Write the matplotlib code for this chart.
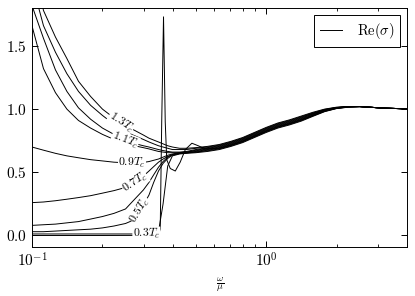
import matplotlib
matplotlib.use('Agg')
import matplotlib.pyplot as plt
import numpy as np

plt.rcParams['font.family'] = 'serif'
plt.rcParams['font.serif'] = ['cmr10']
plt.rcParams['mathtext.fontset'] = 'cm'
plt.rcParams['axes.formatter.use_mathtext'] = True

# gemeinsames Frequenzgitter (omega / mu)
omega = [0.100, 0.112, 0.126, 0.141, 0.158, 0.178, 0.200, 0.224, 0.251, 0.266,
         0.282, 0.299, 0.316, 0.331, 0.347, 0.363, 0.380, 0.398, 0.427, 0.457,
         0.501, 0.562, 0.631, 0.708, 0.794, 0.891, 1.000, 1.122, 1.259, 1.413,
         1.585, 1.778, 1.995, 2.239, 2.512, 3.162, 3.981]

sigma_13 = [2.20, 1.78, 1.57, 1.40, 1.22, 1.10, 1.00, 0.93, 0.87, 0.845,
            0.82, 0.795, 0.77, 0.755, 0.74, 0.725, 0.71, 0.70, 0.69, 0.69,
            0.695, 0.705, 0.72, 0.745, 0.775, 0.815, 0.855, 0.89, 0.915, 0.945,
            0.975, 1.0, 1.015, 1.02, 1.02, 1.008, 1.002]
sigma_12 = [2.00, 1.66, 1.45, 1.28, 1.14, 1.03, 0.95, 0.88, 0.825, 0.80,
            0.78, 0.76, 0.74, 0.725, 0.71, 0.70, 0.69, 0.68, 0.68, 0.68,
            0.69, 0.70, 0.715, 0.74, 0.77, 0.81, 0.85, 0.885, 0.91, 0.94,
            0.97, 0.997, 1.013, 1.02, 1.02, 1.008, 1.002]
sigma_11 = [1.82, 1.56, 1.31, 1.14, 1.01, 0.92, 0.85, 0.80, 0.755, 0.738,
            0.722, 0.71, 0.70, 0.69, 0.68, 0.672, 0.665, 0.66, 0.66, 0.665,
            0.68, 0.695, 0.71, 0.735, 0.765, 0.805, 0.845, 0.88, 0.905, 0.935,
            0.967, 0.995, 1.012, 1.02, 1.02, 1.008, 1.002]
sigma_10 = [1.66, 1.32, 1.13, 1.00, 0.91, 0.85, 0.80, 0.76, 0.73, 0.715,
            0.705, 0.695, 0.685, 0.675, 0.665, 0.66, 0.655, 0.655, 0.655, 0.66,
            0.675, 0.69, 0.705, 0.73, 0.76, 0.80, 0.84, 0.875, 0.90, 0.93,
            0.963, 0.993, 1.011, 1.02, 1.02, 1.008, 1.002]
sigma_09 = [0.70, 0.675, 0.65, 0.63, 0.615, 0.60, 0.59, 0.58, 0.575, 0.574,
            0.574, 0.578, 0.585, 0.595, 0.605, 0.62, 0.635, 0.645, 0.655, 0.66,
            0.67, 0.685, 0.70, 0.725, 0.755, 0.795, 0.835, 0.87, 0.895, 0.925,
            0.96, 0.99, 1.01, 1.02, 1.02, 1.008, 1.002]
sigma_07 = [0.26, 0.265, 0.275, 0.287, 0.30, 0.315, 0.335, 0.355, 0.38, 0.40,
            0.43, 0.47, 0.51, 0.545, 0.58, 0.605, 0.625, 0.64, 0.65, 0.655,
            0.665, 0.68, 0.695, 0.72, 0.75, 0.79, 0.83, 0.865, 0.89, 0.92,
            0.955, 0.987, 1.008, 1.018, 1.02, 1.008, 1.002]
sigma_06 = [0.08, 0.085, 0.09, 0.10, 0.11, 0.13, 0.15, 0.175, 0.21, 0.26,
            0.31, 0.36, 0.42, 0.48, 0.54, 0.585, 0.62, 0.64, 0.65, 0.655,
            0.66, 0.675, 0.69, 0.715, 0.745, 0.785, 0.825, 0.86, 0.885, 0.915,
            0.95, 0.985, 1.007, 1.017, 1.02, 1.008, 1.002]
sigma_05 = [0.03, 0.03, 0.035, 0.04, 0.045, 0.05, 0.06, 0.075, 0.095, 0.115,
            0.16, 0.24, 0.32, 0.42, 0.51, 0.57, 0.61, 0.635, 0.648, 0.653,
            0.66, 0.67, 0.685, 0.71, 0.74, 0.78, 0.82, 0.855, 0.88, 0.91,
            0.947, 0.982, 1.005, 1.016, 1.02, 1.008, 1.002]
sigma_03 = [0.012, 0.012, 0.012, 0.012, 0.012, 0.012, 0.012, 0.012, 0.012, 0.012,
            0.012, 0.012, 0.012, 0.015, 0.03, 0.25, 0.55, 0.63, 0.645, 0.65,
            0.655, 0.665, 0.68, 0.705, 0.735, 0.775, 0.815, 0.85, 0.875, 0.905,
            0.943, 0.98, 1.004, 1.015, 1.02, 1.008, 1.002]

# Kurve mit dem scharfen Peak (tiefste Temperatur)
omega_peak = [0.1, 0.2, 0.3, 0.34, 0.347, 0.353, 0.3582, 0.3646, 0.3708, 0.3763,
              0.3896, 0.4093, 0.4295, 0.4519, 0.4819, 0.5129, 0.5495, 0.631, 0.708,
              0.794, 0.891, 1.0, 1.122, 1.259, 1.413, 1.585, 1.778, 1.995, 2.239,
              2.512, 3.162, 3.981]
sigma_peak = [0.0, 0.0, 0.001, 0.003, 0.006, 0.05, 0.9, 1.73, 0.9, 0.60,
              0.53, 0.51, 0.58, 0.68, 0.73, 0.71, 0.685, 0.69, 0.715,
              0.745, 0.785, 0.825, 0.86, 0.885, 0.915, 0.95, 0.985, 1.007, 1.017,
              1.02, 1.008, 1.002]

curves = [sigma_13, sigma_12, sigma_11, sigma_10, sigma_09,
          sigma_07, sigma_06, sigma_05, sigma_03]

# Beschriftungen: (Kurve, Text, omega-Position)
labels = [(sigma_13, r'$1.3T_c$', 0.240),
          (sigma_11, r'$1.1T_c$', 0.250),
          (sigma_09, r'$0.9T_c$', 0.268),
          (sigma_07, r'$0.7T_c$', 0.276),
          (sigma_05, r'$0.5T_c$', 0.290),
          (sigma_03, r'$0.3T_c$', 0.308)]

fig = plt.figure(figsize=(4.15, 2.96), dpi=100)
ax = fig.add_axes([0.077, 0.166, 0.904, 0.807])

for i, s in enumerate(curves):
    ax.plot(omega, s, color='black', lw=0.7,
            label=r'$\mathrm{Re}(\sigma)$' if i == 0 else None)
ax.plot(omega_peak, sigma_peak, color='black', lw=0.7)

ax.set_xscale('log')
ax.set_xlim(0.1, 4.0)
ax.set_ylim(-0.09, 1.8)
ax.set_yticks([0.0, 0.5, 1.0, 1.5])
ax.set_xlabel(r'$\frac{\omega}{\mu}$', fontsize=10, labelpad=4)

ax.tick_params(which='both', direction='in', top=True, right=True, labelsize=11)
ax.tick_params(which='major', length=4, width=0.7)
ax.tick_params(which='minor', length=2.5, width=0.6)
for sp in ax.spines.values():
    sp.set_linewidth(0.7)

# Labels auf die Kurven setzen, Winkel aus der lokalen Steigung
lw = np.log10(omega)
for s, txt, w in labels:
    y = np.interp(np.log10(w), lw, s)
    w2 = w * 1.03
    y2 = np.interp(np.log10(w2), lw, s)
    p1 = ax.transData.transform((w, y))
    p2 = ax.transData.transform((w2, y2))
    ang = np.degrees(np.arctan2(p2[1] - p1[1], p2[0] - p1[0]))
    ax.text(w, y, txt, fontsize=8.5, rotation=ang, rotation_mode='anchor',
            ha='center', va='center',
            bbox=dict(facecolor='white', edgecolor='none', pad=0.2))

leg = ax.legend(loc='upper right', fontsize=10.5, fancybox=False,
                edgecolor='black', framealpha=1, handlelength=1.5,
                borderpad=0.4, handletextpad=1.0)
leg.get_frame().set_linewidth(0.7)

fig.savefig('out.png', dpi=100)
